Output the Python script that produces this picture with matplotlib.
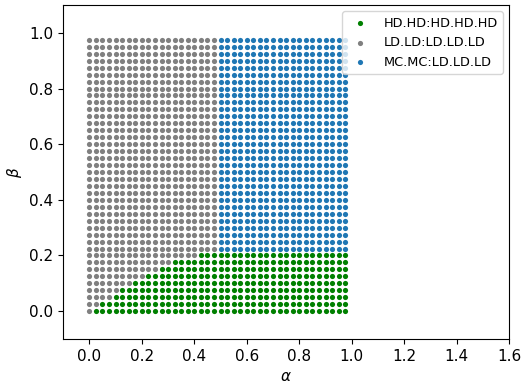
# Phase diagram over (alpha, beta) grid

import numpy as np
import matplotlib.pyplot as plt

# ----------------------------------
# Data
# ----------------------------------

# sweep grid (40 x 40, step 0.025)
alpha_vals = np.round(np.arange(0, 1.0, 0.025), 3)
beta_vals = np.round(np.arange(0, 1.0, 0.025), 3)

# first alpha where HD phase starts, for each of the lowest beta rows
hd_start_alpha = [0.025, 0.05, 0.1, 0.125, 0.175, 0.225, 0.275, 0.325, 0.425]
hd_top_beta = 0.2
mc_start_alpha = 0.5

labels = ["HD.HD:HD.HD.HD", "LD.LD:LD.LD.LD", "MC.MC:LD.LD.LD"]
colors = ["green", "grey", "tab:blue"]

# ----------------------------------
# Classify grid points
# ----------------------------------

points = {lab: ([], []) for lab in labels}
for i, b in enumerate(beta_vals):
    for a in alpha_vals:
        if b <= hd_top_beta + 1e-9:
            lab = labels[0] if a >= hd_start_alpha[i] - 1e-9 else labels[1]
        else:
            lab = labels[2] if a >= mc_start_alpha - 1e-9 else labels[1]
        points[lab][0].append(a)
        points[lab][1].append(b)

# ----------------------------------
# Plot
# ----------------------------------

fig = plt.figure(figsize=(5.26, 3.85), dpi=100)
ax = fig.add_axes([0.120, 0.1195, 0.848, 0.8675])

for lab, col in zip(labels, colors):
    xs, ys = points[lab]
    ax.scatter(xs, ys, s=14, c=col, label=lab, linewidths=0)

ax.set_xlim(-0.1, 1.6)
ax.set_ylim(-0.1, 1.1)
ax.set_xticks(np.arange(0, 1.61, 0.2))
ax.set_yticks(np.arange(0, 1.01, 0.2))
ax.tick_params(labelsize=11)
ax.set_xlabel(r"$\alpha$", fontsize=11)
ax.set_ylabel(r"$\beta$", fontsize=11)
ax.legend(loc="upper right", fontsize=9.3)

plt.savefig("out.png", dpi=100)
